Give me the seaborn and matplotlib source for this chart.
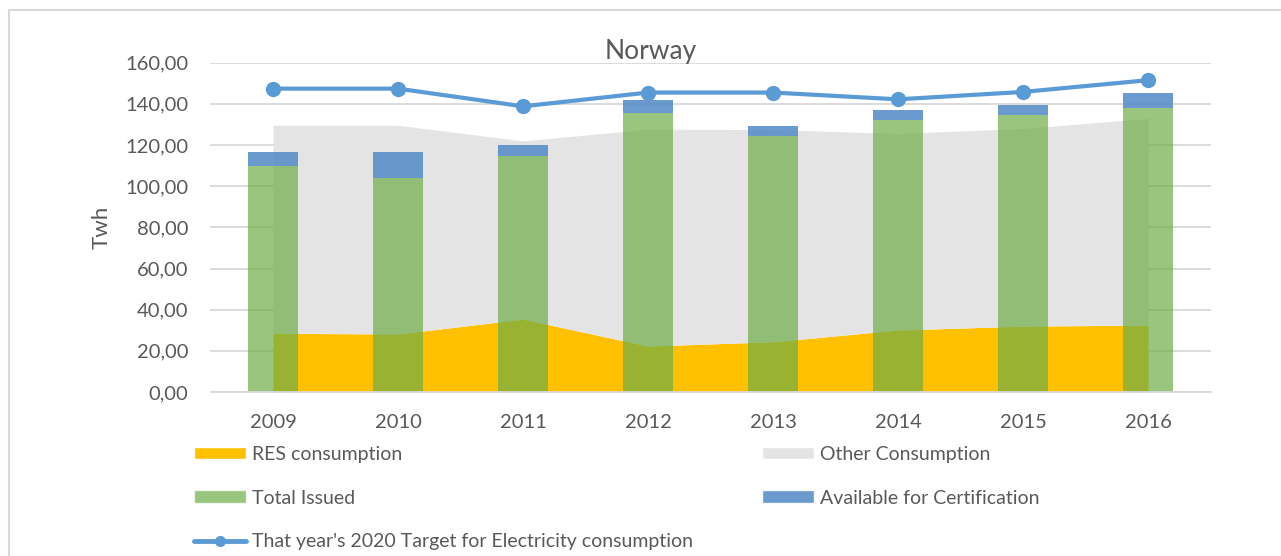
import numpy as np
import pandas as pd
import matplotlib
matplotlib.use('Agg')
import matplotlib.pyplot as plt
import seaborn as sns
from matplotlib.patches import Patch
from matplotlib.lines import Line2D

# values (TWh)
years = ['2009', '2010', '2011', '2012', '2013', '2014', '2015', '2016']
res_consumption = [28.5, 28.2, 35.4, 22.3, 24.4, 30.1, 32.0, 32.5]
total_consumption = [129.6, 129.6, 122.0, 127.7, 127.5, 125.6, 128.0, 132.9]
total_issued = [109.9, 103.9, 114.6, 135.6, 124.3, 132.0, 134.5, 138.2]
available_cert = [6.9, 12.9, 5.3, 6.5, 5.0, 5.0, 4.8, 7.3]
target_2020 = [147.4, 147.4, 138.8, 145.5, 145.5, 142.2, 145.8, 151.5]

other_consumption = [t - r for t, r in zip(total_consumption, res_consumption)]

df = pd.DataFrame({
    'year': years,
    'res': res_consumption,
    'other': other_consumption,
    'issued': total_issued,
    'available': available_cert,
    'target': target_2020,
})

C_RES = '#FFC000'
C_OTHER = '#E4E4E4'
C_ISSUED = '#70AD47'
C_AVAIL = '#5B8FC9'
C_LINE = '#5B9BD5'
C_TEXT = '#595959'
C_GRID = '#D9D9D9'

sns.set_theme(style='white')
plt.rcParams['font.family'] = ['Lato', 'DejaVu Sans']

W, H = 1281, 556
fig = plt.figure(figsize=(W / 100, H / 100), dpi=100)
ax = fig.add_axes([210.5 / W, 1 - 392 / H, 1000 / W, (392 - 62.7) / H])

pos = np.arange(len(df))

# stacked area: RES + other consumption
ax.stackplot(pos, df['res'], df['other'], colors=[C_RES, C_OTHER], zorder=1, linewidth=0)

# stacked bars: issued + available for certification
sns.barplot(data=df, x='year', y='issued', color=C_ISSUED, alpha=0.7, width=0.4,
            saturation=1, linewidth=0, ax=ax, zorder=2)
sns.barplot(data=df, x='year', y='available', bottom=df['issued'].values, color=C_AVAIL,
            alpha=0.9, width=0.4, saturation=1, linewidth=0, ax=ax, zorder=2)

# target line
sns.lineplot(x=pos, y=df['target'], color=C_LINE, linewidth=3, marker='o',
             markersize=11, markeredgewidth=0, ax=ax, zorder=3)

ax.set_xlim(-0.5, 7.5)
ax.set_ylim(0, 160)
ax.set_yticks(np.arange(0, 161, 20))
ax.set_yticklabels([f'{v:.2f}'.replace('.', ',') for v in np.arange(0, 161, 20)])
ax.set_xticks(pos)
ax.set_xticklabels(years)
ax.yaxis.grid(True, color=C_GRID, linewidth=1.3, zorder=0)
ax.set_axisbelow(True)
for s in ['top', 'right', 'left']:
    ax.spines[s].set_visible(False)
ax.spines['bottom'].set_color(C_GRID)
ax.spines['bottom'].set_linewidth(1.3)
ax.tick_params(axis='both', colors=C_TEXT, labelsize=14.5, length=0)
ax.tick_params(axis='y', pad=16)
ax.tick_params(axis='x', pad=16)
ax.set_xlabel('')
ax.set_ylabel('Twh', fontsize=16, color=C_TEXT, labelpad=10)

fig.text(651 / W, 1 - 51 / H, 'Norway', ha='center', va='center', fontsize=19, color=C_TEXT)

# legend, two columns laid out as in the reference
leg_kw = dict(loc='upper left', frameon=False, fontsize=14, labelcolor=C_TEXT,
              handlelength=2.68, handleheight=0.62, handletextpad=0.3,
              labelspacing=1.37, borderpad=0, borderaxespad=0)
h_res = Patch(facecolor=C_RES, label='RES consumption')
h_iss = Patch(facecolor=C_ISSUED, alpha=0.7, label='Total Issued')
h_tgt = Line2D([], [], color=C_LINE, linewidth=3.5, marker='o', markersize=8,
               markeredgewidth=0, label="That year's 2020 Target for Electricity consumption")
h_oth = Patch(facecolor=C_OTHER, label='Other Consumption')
h_av = Patch(facecolor=C_AVAIL, alpha=0.9, label='Available for Certification')
fig.legend(handles=[h_res, h_iss, h_tgt], bbox_to_anchor=(194 / W, 1 - 446 / H), **leg_kw)
fig.legend(handles=[h_oth, h_av], bbox_to_anchor=(762 / W, 1 - 446 / H), **leg_kw)

# outer chart frame
fig.add_artist(Line2D([9 / W, 1], [1 - 10 / H, 1 - 10 / H], color=C_GRID, linewidth=1.5))
fig.add_artist(Line2D([9 / W, 9 / W], [0, 1 - 10 / H], color=C_GRID, linewidth=1.5))

fig.savefig('out.png', dpi=100)
